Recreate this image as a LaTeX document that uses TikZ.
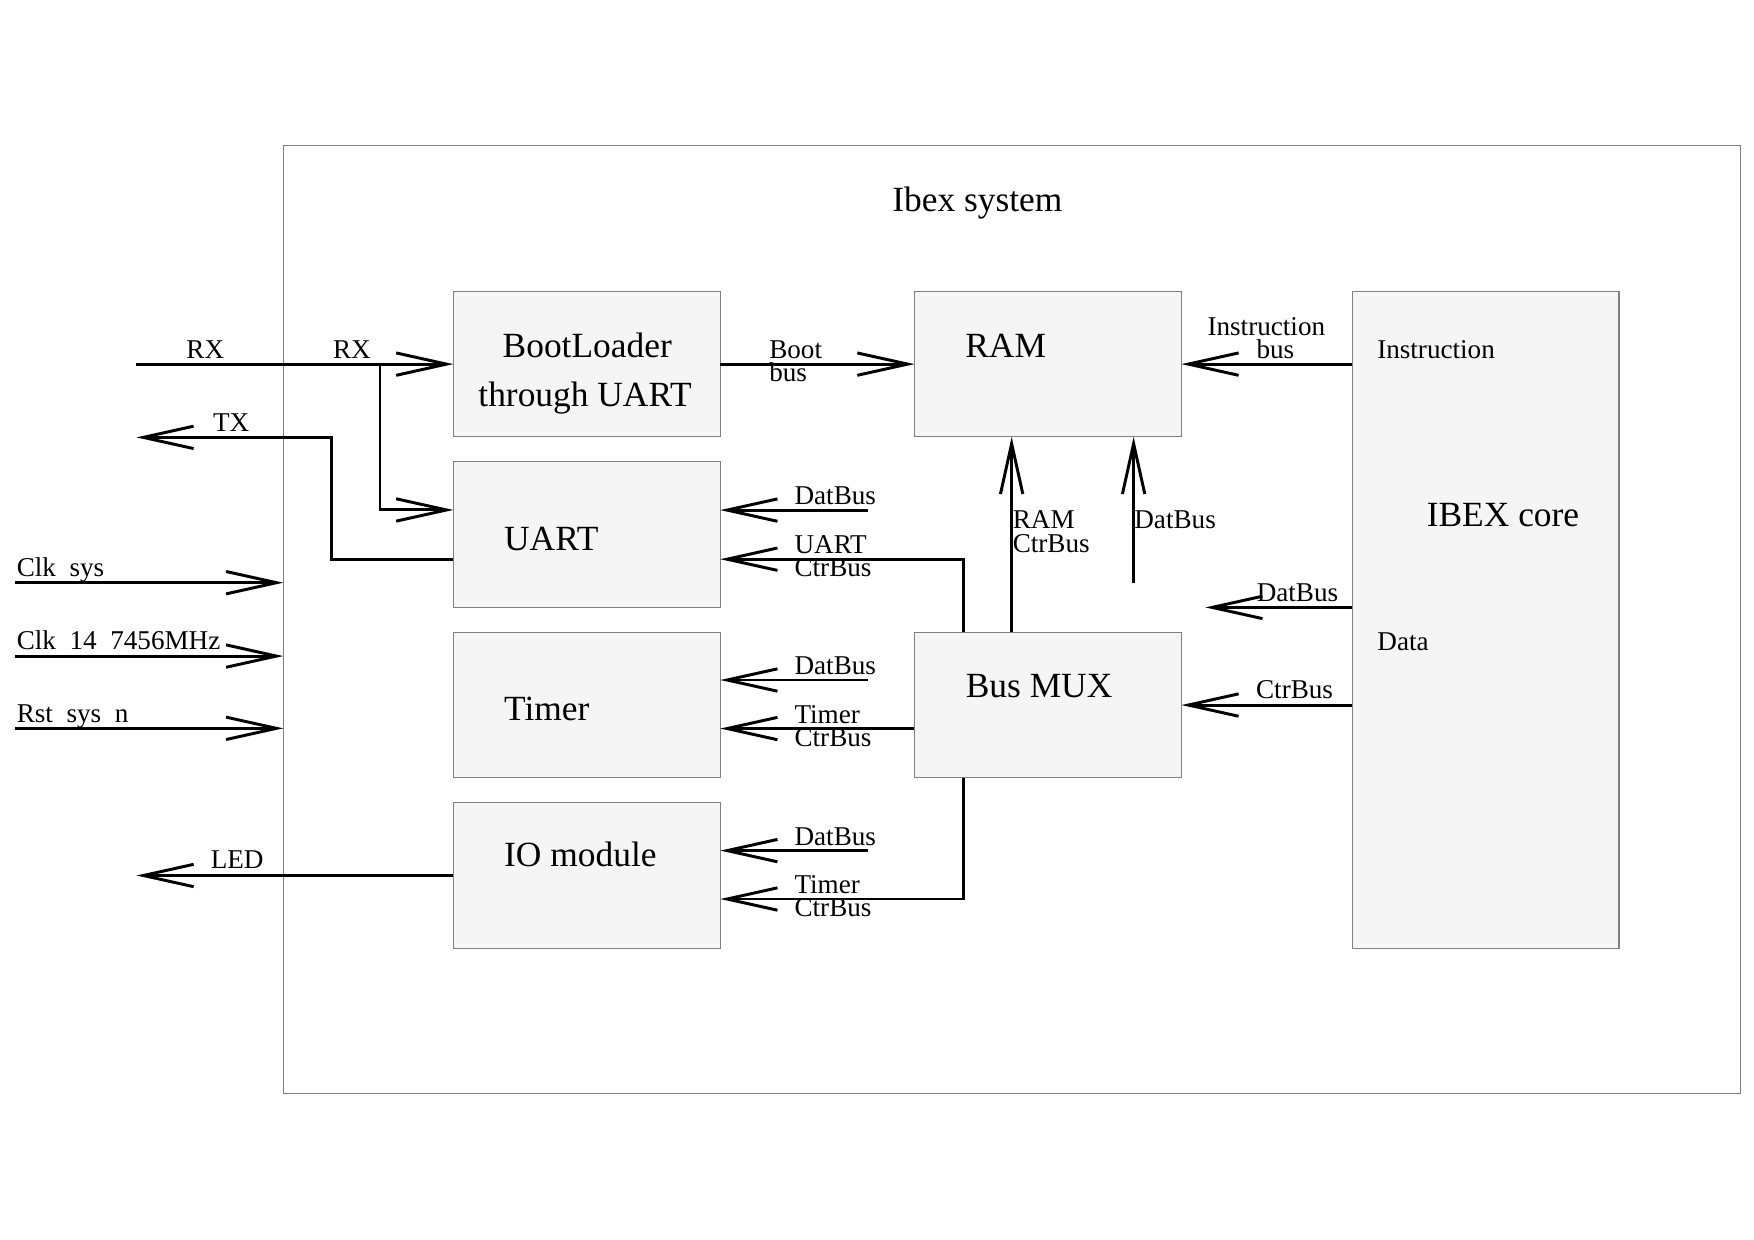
\documentclass[tikz,border=0pt]{standalone}
\usepackage{fontspec}
\setmainfont{Liberation Serif}
\usetikzlibrary{positioning,arrows.meta}

\tikzset{
  blk/.style={draw=black!50, line width=0.3pt, fill=black!4, minimum width=2.385cm, minimum height=1.3cm, inner sep=0pt, outer sep=0pt},
  big/.style={font=\fontsize{9}{10}\selectfont, inner sep=0pt, anchor=base west},
  sml/.style={font=\fontsize{6.9}{7}\selectfont, inner sep=0pt, anchor=base west},
  bus/.style={line width=0.75pt, -{Straight Barb[length=0.45cm, width=0.2cm]}},
}

\begin{document}
\begin{tikzpicture}[x=0.01cm, y=-0.01cm, node distance=0.223cm]
	\useasboundingbox (0,0) rectangle (1568,1108.5);
	% System frame
	\node[draw=black!50, line width=0.3pt, minimum width=13.02cm, minimum height=8.47cm, inner sep=0pt, outer sep=0pt] (sys) at (904.6,553.5) {};
	\node[big] (sysname) at (797,189.3) {Ibex system};
	%%%%% Left column
	\node[blk] (boot) at (524.6,325.5) {};
	\node[blk, below=of boot] (uart) {};
	\node[blk, below=of uart] (timer) {};
	\node[blk, below=of timer] (io) {};
	%%%%% Middle column
	\node[blk, right=1.735cm of boot] (ram) {};
	\node[blk, right=1.735cm of timer] (mux) {};
	%%%%% Core
	\node[blk, minimum height=5.87cm, right=1.525cm of ram.north east, anchor=north west] (ibex) {};
	% Block names
	\node[big, anchor=base] (bootname) at (525,319.5) {BootLoader};
	\node[big, anchor=base] (bootname2) at (523,363) {through UART};
	\node[big] (uartname) at (450,492.3) {UART};
	\node[big] (timername) at (450,644.3) {Timer};
	\node[big] (ioname) at (450,774.8) {IO module};
	\node[big] (ramname) at (862.3,319.4) {RAM};
	\node[big] (muxname) at (862.7,623.4) {Bus MUX};
	\node[big] (ibexname) at (1274.8,470.8) {IBEX core};
	\node[sml] (instrport) at (1230.5,320.3) {Instruction};
	\node[sml] (dataport) at (1230.7,581.1) {Data};
	%%%%% Outside ports
	\coordinate (rxin) at (122,325.5) ;
	\coordinate (rxsplit) at (339.7,325.5) ;
	\coordinate (txout) at (122,391) ;
	\coordinate (txbend) at (296.5,391) ;
	\coordinate (clksys) at (13.4,520.9) ;
	\coordinate (clkuart) at (13.4,586.5) ;
	\coordinate (rstin) at (13.4,651.1) ;
	\coordinate (ledout) at (io.west -| txout) ;
	\draw[bus] (rxin) -- (boot.west) ;
	\draw[bus] (rxsplit) |- ([yshift=0.22cm]uart.west) ;
	\draw[bus] ([yshift=-0.22cm]uart.west) -| (txbend) -- (txout) ;
	\draw[bus] (clksys) -- (clksys -| sys.west) ;
	\draw[bus] (clkuart) -- (clkuart -| sys.west) ;
	\draw[bus] (rstin) -- (rstin -| sys.west) ;
	\draw[bus] (io.west) -- (ledout) ;
	\node[sml] (rxlbl) at (166,320.3) {RX} ;
	\node[sml] (rxlbl2) at (297,320.3) {RX} ;
	\node[sml] (txlbl) at (189.8,385.9) {TX} ;
	\node[sml] (clksyslbl) at (14.3,515.5) {Clk\hspace{0.5em}sys} ;
	\node[sml] (clkuartlbl) at (14.3,581) {Clk\hspace{0.5em}14\hspace{0.5em}7456MHz} ;
	\node[sml] (rstlbl) at (14.3,646) {Rst\hspace{0.5em}sys\hspace{0.5em}n} ;
	\node[sml] (ledlbl) at (187.7,776.3) {LED} ;
	%%%%% Buses
	\coordinate (dbuart) at (775.6,456) ;
	\coordinate (dbtimer) at (775.6,607.9) ;
	\coordinate (dbio) at (775.6,760.4) ;
	\coordinate (dbram) at (1013.4,521.5) ;
	\coordinate (dbcore) at (1077.5,543) ;
	\draw[bus] (boot.east) -- (ram.west) ;
	\draw[bus] (ram.east -| ibex.west) -- (ram.east) ;
	\draw[bus] (dbuart) -- (dbuart -| uart.east) ;
	\draw[bus] ([xshift=0.435cm]mux.north west) |- ([yshift=-0.22cm]uart.east) ;
	\draw[bus] (dbtimer) -- (dbtimer -| timer.east) ;
	\draw[bus] ([yshift=-0.21cm]mux.west) -- ([yshift=-0.21cm]timer.east) ;
	\draw[bus] (dbio) -- (dbio -| io.east) ;
	\draw[bus] ([xshift=0.435cm]mux.south west) |- ([yshift=-0.21cm]io.east) ;
	\draw[bus] ([xshift=0.868cm]mux.north west) -- ([xshift=0.868cm]ram.south west) ;
	\draw[bus] (dbram) -- (dbram |- ram.south) ;
	\draw[bus] (dbcore -| ibex.west) -- (dbcore) ;
	\draw[bus] (ibex.west |- mux.east) -- (mux.east) ;
	% Bus labels
	\node[sml] (bootbus) at (687,320.3) {Boot} ;
	\node[sml] (bootbus2) at (687,341.2) {bus} ;
	\node[sml] (instrbus) at (1078.8,299.5) {Instruction} ;
	\node[sml] (instrbus2) at (1122.6,320.3) {bus} ;
	\node[sml] (dbuartlbl) at (709.6,451) {DatBus} ;
	\node[sml] (cbuartlbl) at (709.6,494.7) {UART} ;
	\node[sml] (cbuartlbl2) at (709.6,515.5) {CtrBus} ;
	\node[sml] (dbtimerlbl) at (709.6,602.6) {DatBus} ;
	\node[sml] (cbtimerlbl) at (709.6,646.6) {Timer} ;
	\node[sml] (cbtimerlbl2) at (709.6,667.5) {CtrBus} ;
	\node[sml] (dbiolbl) at (709.6,755.4) {DatBus} ;
	\node[sml] (cbiolbl) at (709.6,798.6) {Timer} ;
	\node[sml] (cbiolbl2) at (709.6,819.5) {CtrBus} ;
	\node[sml] (cbramlbl) at (904.7,472.3) {RAM} ;
	\node[sml] (cbramlbl2) at (904.7,494) {CtrBus} ;
	\node[sml] (dbramlbl) at (1013.4,472.3) {DatBus} ;
	\node[sml] (dbcorelbl) at (1122.8,537.9) {DatBus} ;
	\node[sml] (cbcorelbl) at (1122.2,624.3) {CtrBus} ;
\end{tikzpicture}
\end{document}
